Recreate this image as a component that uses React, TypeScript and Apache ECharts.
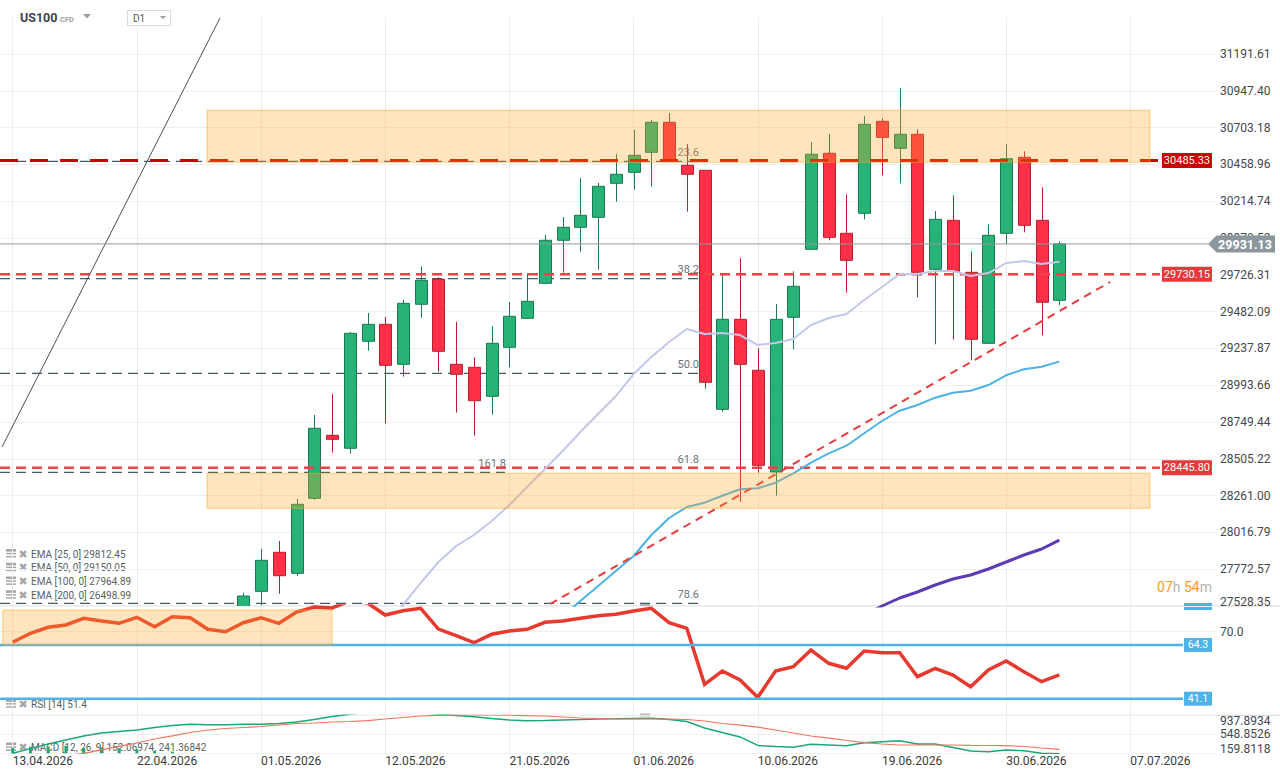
import React, { useEffect, useRef } from 'react';
import * as echarts from 'echarts';

// ---------- axes ----------
const dateLabels = [
  '13.04.2026', '22.04.2026', '01.05.2026', '12.05.2026', '21.05.2026',
  '01.06.2026', '10.06.2026', '19.06.2026', '30.06.2026', '07.07.2026',
];
const DAYS_PER_LABEL = 7;
const priceTicks = [
  27528.35, 27772.57, 28016.79, 28261.0, 28505.22, 28749.44, 28993.66, 29237.87,
  29482.09, 29726.31, 29970.52, 30214.74, 30458.96, 30703.18, 30947.4, 31191.61,
];
const rsiTicks = [70];
const macdTicks = [159.8118, 548.8526, 937.8934];

// ---------- daily candles (first visible bar is day 13) ----------
const candleStart = 13;
const opens = [
  27488.5, 27625.9, 27884.7, 27745.3, 28243.0, 28661.1, 28574.9, 29284.9, 29397.7, 29132.2,
  29530.4, 29696.3, 29132.2, 29112.4, 28919.9, 29245.1, 29437.5, 29669.8, 29955.1, 30041.4,
  30107.8, 30333.4, 30406.4, 30539.1, 30738.2, 30452.8, 30419.7, 28833.6, 29430.9, 29092.5,
  28417.6, 29444.2, 29895.5, 30532.5, 30001.6, 30134.3, 30744.8, 30565.6, 30658.6, 29762.7,
  30087.8, 29742.8, 29271.6, 30001.6, 30505.9, 30087.8, 29557.0,
];
const closes = [
  27594.7, 27831.6, 27729.4, 28203.2, 28707.6, 28634.6, 29338.0, 29397.7, 29125.6, 29537.1,
  29689.7, 29218.5, 29065.9, 28890.7, 29271.6, 29450.8, 29550.3, 29955.1, 30041.4, 30121.1,
  30313.5, 30393.1, 30519.1, 30738.2, 30479.4, 30393.1, 29012.8, 29430.9, 29132.2, 28462.0,
  29430.9, 29649.9, 30525.8, 29975.0, 29822.4, 30724.9, 30638.6, 30658.6, 29742.8, 30094.5,
  29749.4, 29298.2, 29988.3, 30496.6, 30054.7, 29543.7, 29931.13,
];
const lows = [
  27468.6, 27533.0, 27610.0, 27729.4, 28231.8, 28545.6, 28539.0, 29222.5, 28740.7, 29050.0,
  29441.5, 29083.2, 28811.1, 28658.5, 28797.8, 29112.4, 29432.9, 29665.1, 29740.2, 29879.5,
  29760.0, 30211.3, 30291.0, 30310.8, 30474.8, 30144.9, 28970.4, 28817.7, 28220.5, 28412.9,
  28260.3, 29231.8, 29890.8, 29955.1, 29607.4, 30094.5, 30386.4, 30333.4, 29576.9, 29265.0,
  29298.2, 29158.8, 29267.0, 29930.6, 30008.2, 29324.7, 29523.8,
];
const highs = [
  27616.6, 27906.6, 27959.7, 28238.4, 28795.8, 28935.2, 29346.6, 29472.7, 29446.1, 29559.0,
  29779.9, 29709.6, 29415.0, 29178.7, 29384.4, 29545.7, 29736.1, 29990.3, 30109.8, 30368.6,
  30335.4, 30527.9, 30687.1, 30753.5, 30799.9, 30594.2, 30421.6, 29736.1, 29835.7, 29238.4,
  29532.4, 29749.4, 30605.5, 30660.5, 30260.4, 30780.0, 30764.7, 30965.8, 30691.7, 30149.6,
  30253.7, 29882.1, 30061.3, 30592.2, 30545.7, 30306.8, 29948.4,
];

// ---------- moving averages ----------
const ema25Start = 21;
const ema25 = [
  27402.3, 27535.0, 27681.0, 27820.3, 27926.5, 27999.5, 28092.4, 28198.6, 28318.0, 28437.5,
  28556.9, 28683.0, 28802.5, 28921.9, 29067.9, 29180.7, 29280.2, 29366.5, 29333.3, 29340.0,
  29326.7, 29260.3, 29273.6, 29300.1, 29393.0, 29439.5, 29466.0, 29558.9, 29645.2, 29731.5,
  29731.5, 29751.4, 29751.4, 29718.2, 29738.1, 29804.5, 29817.7, 29797.8, 29812.45,
];
const ema50Start = 31;
const ema50 = [
  27462.0, 27561.5, 27661.1, 27760.6, 27860.2, 27999.5, 28112.3, 28185.3, 28213.9, 28260.3,
  28302.8, 28309.4, 28346.6, 28409.0, 28479.3, 28541.7, 28592.1, 28674.4, 28756.0, 28824.4,
  28862.2, 28910.7, 28943.8, 28957.1, 28994.9, 29059.3, 29099.1, 29116.4, 29150.05,
];
const ema100Start = 48;
const ema100 = [
  27468.6, 27528.35, 27581.4, 27621.3, 27667.7, 27707.5, 27734.1, 27773.9, 27820.3, 27866.8,
  27906.6, 27964.89,
];
const ema200Last = 26498.99;

// ---------- RSI [14] ----------
const rsi = [
  65.43, 69.31, 71.9, 72.89, 75.78, 74.62, 73.62, 76.21, 72.16, 76.47,
  76.04, 71.04, 70.0, 73.88, 76.04, 73.62, 78.5, 80.66, 80.22, 83.24,
  82.38, 77.2, 79.06, 80.09, 71.16, 68.27, 65.25, 68.88, 70.3, 71.04,
  74.06, 74.62, 75.78, 76.9, 77.51, 78.93, 80.09, 73.88, 71.47, 47.31,
  53.05, 49.16, 41.7, 53.05, 54.9, 62.11, 56.37, 54.21, 61.67, 60.94,
  60.94, 50.59, 54.21, 51.32, 46.27, 53.48, 57.36, 52.74, 48.43, 51.4,
];
const rsiBands = [64.3, 41.1];
const rsiZoneHigh = 79.36;
const rsiZoneLow = 64.3;

// ---------- MACD [12, 26, 9] ----------
const macdLine = [
  160.0, 254.2, 350.4, 432.3, 514.2, 575.6, 606.3, 637.0, 688.2, 729.1,
  755.7, 743.4, 745.0, 753.7, 755.7, 770.0, 800.8, 851.9, 913.3, 960.0,
  1000.0, 1020.0, 1010.0, 990.0, 960.0, 935.0, 909.2, 872.4, 841.7, 827.4,
  831.5, 841.7, 851.9, 862.2, 866.2, 872.4, 876.5, 851.9, 811.0, 677.9,
  585.8, 493.7, 319.7, 299.2, 282.9, 344.3, 329.9, 315.6, 377.0, 397.5,
  418.0, 350.4, 350.4, 278.8, 207.1, 192.8, 227.6, 213.3, 160.0, 152.06974,
];
const signalStart = 3;
const signalLine = [
  100.0, 160.0, 231.7, 303.3, 370.9, 452.8, 518.3, 585.8, 637.0, 667.7,
  688.2, 708.6, 739.3, 770.0, 780.3, 800.8, 811.0, 829.4, 862.2, 892.9,
  923.6, 935.0, 945.0, 950.0, 948.0, 940.0, 930.0, 923.6, 903.1, 882.6,
  872.4, 866.2, 862.2, 862.2, 858.1, 851.9, 821.2, 770.0, 735.2, 694.3,
  637.0, 575.6, 514.2, 469.1, 422.1, 377.0, 350.4, 329.9, 329.9, 329.9,
  329.9, 323.8, 319.7, 315.6, 299.2, 268.5, 241.36842,
];
const histogram = [268.5, 295.1, 295.1, 315.6, 268.5, 282.9, 262.4, 241.9, 207.1, 192.8];

// ---------- drawing tools ----------
const levelLines = [30485.33, 29730.15, 28445.8];
const fibLevels = [23.6, 38.2, 50.0, 61.8, 78.6];
const fibHigh = 31737.9;
const fibLow = 26405.0;
const extLevels = [161.8];
const extPrices = [28415.6];
const zoneHigh = [30817.8, 28408.9];
const zoneLow = [30472.7, 28176.7];
const blackTrend = [[-0.603, 28583.5], [11.685, 31430.3]];
const redTrend = [[30.29, 27541.6], [61.86, 29678.4]];

// ---------- layout constants ----------
const FONT = 'Roboto, "Noto Sans", sans-serif';
const X_MIN = -0.716;
const X_MAX = 67.83;
const PRICE_MAX = 31437.0;
const RSI_MIN = 33.93;
const RSI_MAX = 81.09;
const FIB_END = 38.63;
const EXT_END = 27.75;
const LEVEL_END = 64.67;
const LAST_END = 67.38;
const BAND_END = 65.97;
const ZONE_X = [10.95, 64.11];
const RSI_ZONE_X = [-0.56, 18.0];

const withIndex = (start: number, arr: number[]) => arr.map((v, k) => [start + k, v]);

const txt = (x: number, y: number, text: string, font: string, fill: string, align = 'left', extra: any = {}) => ({
  type: 'text',
  x,
  y,
  silent: true,
  style: { text, font, fill, align, verticalAlign: 'middle', textAlign: align, textVerticalAlign: 'middle', ...extra },
});

const renderCandle = (_p: any, api: any) => {
  const i = api.value(0);
  const o = api.value(1);
  const c = api.value(2);
  const l = api.value(3);
  const h = api.value(4);
  const po = api.coord([i, o]);
  const yc = api.coord([i, c])[1];
  const yl = api.coord([i, l])[1];
  const yh = api.coord([i, h])[1];
  const up = c >= o;
  const body = up ? '#27b277' : '#ff2f47';
  const edge = up ? '#1a7a50' : '#b71f30';
  const cx = Math.round(po[0]) + 0.5;
  const top = Math.min(po[1], yc);
  return {
    type: 'group',
    children: [
      { type: 'line', shape: { x1: cx, y1: yh, x2: cx, y2: yl }, style: { stroke: edge, lineWidth: 1 } },
      {
        type: 'rect',
        shape: { x: cx - 6, y: top, width: 12, height: Math.max(Math.abs(po[1] - yc), 1) },
        style: { fill: body, stroke: edge, lineWidth: 1 },
      },
    ],
  };
};

const renderZone = (_p: any, api: any) => {
  const a = api.coord([api.value(0), api.value(2)]);
  const b = api.coord([api.value(1), api.value(3)]);
  return {
    type: 'rect',
    shape: { x: a[0], y: a[1], width: b[0] - a[0], height: b[1] - a[1] },
    style: { fill: 'rgba(255,167,38,0.3)', stroke: 'rgba(255,167,38,0.55)', lineWidth: 1 },
  };
};

const levelStyles = [
  { color: '#cc0000', width: 3, dash: [18, 12] },
  { color: '#ee4247', width: 2.5, dash: [10, 6] },
  { color: '#ee4247', width: 2.5, dash: [10, 6] },
];
const tagColors = ['#cc0000', '#e8383d', '#e8383d'];

const renderLevel = (p: any, api: any) => {
  const v = api.value(1);
  const st = levelStyles[p.dataIndex];
  const a = api.coord([X_MIN, v]);
  const x1 = api.coord([LEVEL_END, v])[0];
  const y = a[1];
  return {
    type: 'group',
    children: [
      { type: 'line', shape: { x1: a[0], y1: y, x2: x1, y2: y }, style: { stroke: st.color, lineWidth: st.width, lineDash: st.dash } },
      { type: 'rect', shape: { x: x1 + 2, y: y - 7.5, width: 50, height: 15 }, style: { fill: tagColors[p.dataIndex] } },
      txt(x1 + 27, y, v.toFixed(2), `11px ${FONT}`, '#ffffff', 'center'),
    ],
  };
};

const renderFib = (_p: any, api: any) => {
  const lvl = api.value(0);
  const price = api.value(1);
  const xEnd = api.value(2);
  const a = api.coord([X_MIN, price]);
  const b = api.coord([xEnd, price]);
  return {
    type: 'group',
    children: [
      { type: 'line', shape: { x1: a[0], y1: a[1], x2: b[0], y2: b[1] }, style: { stroke: '#455a64', lineWidth: 1.3, lineDash: [10, 6] } },
      txt(b[0] + 1, a[1] - 9, lvl.toFixed(1), `11px ${FONT}`, '#6b747a', 'right'),
    ],
  };
};

const renderLast = (_p: any, api: any) => {
  const v = api.value(1);
  const a = api.coord([X_MIN, v]);
  const tip = api.coord([LAST_END, v])[0];
  const y = a[1];
  return {
    type: 'group',
    children: [
      { type: 'line', shape: { x1: a[0], y1: y, x2: tip, y2: y }, style: { stroke: '#8f9aa0', lineWidth: 1 } },
      {
        type: 'polygon',
        shape: { points: [[tip, y], [tip + 8.5, y - 8.5], [tip + 67, y - 8.5], [tip + 67, y + 8.5], [tip + 8.5, y + 8.5]] },
        style: { fill: '#8c979d' },
      },
      txt(tip + 37, y + 0.5, v.toFixed(2), `bold 12.5px ${FONT}`, '#ffffff', 'center'),
    ],
  };
};

const renderBand = (_p: any, api: any) => {
  const v = api.value(1);
  const a = api.coord([X_MIN, v]);
  const x1 = api.coord([BAND_END, v])[0];
  const y = a[1];
  return {
    type: 'group',
    children: [
      { type: 'line', shape: { x1: a[0], y1: y, x2: x1, y2: y }, style: { stroke: '#4db3e8', lineWidth: 2.5 } },
      { type: 'rect', shape: { x: x1 + 1, y: y - 7, width: 28, height: 14 }, style: { fill: '#4db3e8' } },
      txt(x1 + 15, y, v.toFixed(1), `10.5px ${FONT}`, '#ffffff', 'center'),
    ],
  };
};

const dateTicks = dateLabels.map((_, k) => k * DAYS_PER_LABEL);

const makeX = (gridIndex: number, showLabels: boolean) => ({
  type: 'value',
  gridIndex,
  min: X_MIN,
  max: X_MAX,
  axisLine: { show: false },
  axisTick: { show: false, customValues: dateTicks },
  axisLabel: {
    show: showLabels,
    customValues: dateTicks,
    formatter: (v: number) => dateLabels[Math.round(v / DAYS_PER_LABEL)] ?? '',
    align: 'left',
    margin: 2,
    color: '#3a3a3a',
    fontSize: 12,
    fontFamily: FONT,
  },
  splitLine: { show: true, lineStyle: { color: '#ededed', width: 1 } },
});

const yLabelBase = { color: '#3f4850', fontSize: 12, fontFamily: FONT, margin: 4 };

const legendIcon = (y: number) => [
  { type: 'rect', silent: true, shape: { x: 6, y: y - 5, width: 10, height: 2.6 }, style: { fill: '#a6a6a6' } },
  { type: 'rect', silent: true, shape: { x: 6, y: y - 1.2, width: 10, height: 1.5 }, style: { fill: '#a6a6a6' } },
  { type: 'rect', silent: true, shape: { x: 6, y: y + 1.9, width: 10, height: 1.5 }, style: { fill: '#a6a6a6' } },
  txt(18.5, y, '✖', 'bold 11px "DejaVu Sans", sans-serif', '#a6a6a6'),
];

function buildOption(): any {
  const candleData = opens.map((o, k) => [candleStart + k, o, closes[k], lows[k], highs[k]]);
  const lastClose = closes[closes.length - 1];
  const fibData = [
    ...fibLevels.map((l) => [l, fibHigh - ((fibHigh - fibLow) * l) / 100, FIB_END]),
    ...extLevels.map((l, k) => [l, extPrices[k], EXT_END]),
  ];
  const zoneData = zoneHigh.map((h, k) => [ZONE_X[0], ZONE_X[1], h, zoneLow[k]]);

  const emaRows = [
    `EMA [25, 0] ${ema25[ema25.length - 1].toFixed(2)}`,
    `EMA [50, 0] ${ema50[ema50.length - 1].toFixed(2)}`,
    `EMA [100, 0] ${ema100[ema100.length - 1].toFixed(2)}`,
    `EMA [200, 0] ${ema200Last.toFixed(2)}`,
  ];
  const emaRowY = [554, 567.8, 581.5, 595.3];
  const legendFont = `10px ${FONT}`;
  const legendColor = '#585f65';

  const graphic: any[] = [
    // header
    txt(20, 17.5, 'US100', `bold 12.5px ${FONT}`, '#3d4449'),
    txt(60, 19, 'CFD', `bold 7.5px ${FONT}`, '#a2a2a2'),
    { type: 'polygon', silent: true, shape: { points: [[83, 14], [91, 14], [87, 18.5]] }, style: { fill: '#9e9e9e' } },
    { type: 'rect', silent: true, shape: { x: 127.5, y: 10.5, width: 43, height: 15 }, style: { fill: '#ffffff', stroke: '#d9d9d9', lineWidth: 1 } },
    txt(133, 18.3, 'D1', `10px ${FONT}`, '#555b60'),
    { type: 'polygon', silent: true, shape: { points: [[160, 16], [166, 16], [163, 19]] }, style: { fill: '#9e9e9e' } },
    // pane separators and handles
    { type: 'line', silent: true, shape: { x1: 0, y1: 606, x2: 1280, y2: 606 }, style: { stroke: '#d4d4d4', lineWidth: 1 } },
    { type: 'line', silent: true, shape: { x1: 0, y1: 715.3, x2: 1280, y2: 715.3 }, style: { stroke: '#d4d4d4', lineWidth: 1 } },
    { type: 'rect', silent: true, shape: { x: 640, y: 604, width: 10, height: 3 }, style: { fill: '#b5b5b5' } },
    { type: 'rect', silent: true, shape: { x: 640, y: 713.5, width: 10, height: 3 }, style: { fill: '#b5b5b5' } },
    { type: 'rect', silent: true, shape: { x: 1184, y: 603, width: 28, height: 7 }, style: { fill: '#4db3e8' } },
    // candle countdown
    {
      type: 'text',
      x: 1212,
      y: 587,
      silent: true,
      style: {
        text: '{o|07}{g|h} {o|54}{g|m}',
        align: 'right',
        textAlign: 'right',
        verticalAlign: 'middle',
        textVerticalAlign: 'middle',
        font: `14px ${FONT}`,
        rich: {
          o: { fill: '#ff9a1e', font: `14px ${FONT}` },
          g: { fill: '#b3b3b3', font: `14px ${FONT}` },
        },
      },
    },
  ];
  emaRows.forEach((t, k) => {
    graphic.push(...legendIcon(emaRowY[k]));
    graphic.push(txt(31, emaRowY[k], t, legendFont, legendColor));
  });
  graphic.push(...legendIcon(704.3));
  graphic.push(txt(31, 704.3, `RSI [14] ${rsi[rsi.length - 1].toFixed(1)}`, legendFont, legendColor));
  graphic.push(...legendIcon(747.5));
  graphic.push(
    txt(
      31,
      747.5,
      `MACD [12, 26, 9] ${macdLine[macdLine.length - 1].toFixed(5)}, ${signalLine[signalLine.length - 1].toFixed(5)}`,
      legendFont,
      legendColor,
    ),
  );

  return {
    animation: false,
    backgroundColor: '#ffffff',
    textStyle: { fontFamily: FONT },
    grid: [
      { left: 0, right: 64, top: 17, height: 589 },
      { left: 0, right: 64, top: 606, height: 109.3 },
      { left: 0, right: 64, top: 715.3, height: 38 },
    ],
    xAxis: [makeX(0, false), makeX(1, false), makeX(2, true)],
    yAxis: [
      {
        type: 'value',
        gridIndex: 0,
        position: 'right',
        min: priceTicks[0],
        max: PRICE_MAX,
        axisLine: { show: false },
        axisTick: { show: false, customValues: priceTicks },
        axisLabel: {
          ...yLabelBase,
          customValues: priceTicks,
          formatter: (v: number) => {
            const s = v.toFixed(2);
            return Math.abs(v - priceTicks[0]) < 1e-6 ? `{lo|${s}}` : s;
          },
          rich: { lo: { padding: [0, 0, 8, 0], color: '#3f4850', fontSize: 12, fontFamily: FONT } },
        },
        splitLine: { show: true, lineStyle: { color: '#efefef' } },
      },
      {
        type: 'value',
        gridIndex: 1,
        position: 'right',
        min: RSI_MIN,
        max: RSI_MAX,
        axisLine: { show: false },
        axisTick: { show: false, customValues: rsiTicks },
        axisLabel: { ...yLabelBase, customValues: rsiTicks, formatter: (v: number) => v.toFixed(1) },
        splitLine: { show: true, lineStyle: { color: '#efefef' } },
      },
      {
        type: 'value',
        gridIndex: 2,
        position: 'right',
        min: macdTicks[0],
        max: macdTicks[macdTicks.length - 1],
        axisLine: { show: false },
        axisTick: { show: false, customValues: macdTicks },
        axisLabel: {
          ...yLabelBase,
          customValues: macdTicks,
          formatter: (v: number) => {
            const s = v.toFixed(4);
            if (Math.abs(v - macdTicks[macdTicks.length - 1]) < 1e-6) return `{hi|${s}}`;
            if (Math.abs(v - macdTicks[0]) < 1e-6) return `{lo|${s}}`;
            return s;
          },
          rich: {
            hi: { padding: [12, 0, 0, 0], color: '#3f4850', fontSize: 12, fontFamily: FONT },
            lo: { padding: [0, 0, 9, 0], color: '#3f4850', fontSize: 12, fontFamily: FONT },
          },
        },
        splitLine: { show: true, lineStyle: { color: '#efefef' } },
      },
    ],
    graphic,
    series: [
      // ----- price pane -----
      {
        type: 'custom',
        name: 'US100',
        xAxisIndex: 0,
        yAxisIndex: 0,
        clip: true,
        z: 3,
        silent: true,
        renderItem: renderCandle,
        encode: { x: 0, y: [1, 2, 3, 4] },
        data: candleData,
      },
      {
        type: 'custom',
        name: 'Fibonacci',
        xAxisIndex: 0,
        yAxisIndex: 0,
        clip: false,
        z: 2,
        silent: true,
        renderItem: renderFib,
        data: fibData,
      },
      {
        type: 'line',
        name: 'EMA 25',
        xAxisIndex: 0,
        yAxisIndex: 0,
        showSymbol: false,
        silent: true,
        z: 4,
        lineStyle: { color: '#c3c7ea', width: 2 },
        data: withIndex(ema25Start, ema25),
      },
      {
        type: 'line',
        name: 'EMA 50',
        xAxisIndex: 0,
        yAxisIndex: 0,
        showSymbol: false,
        silent: true,
        z: 4,
        lineStyle: { color: '#4bb3e7', width: 2 },
        data: withIndex(ema50Start, ema50),
      },
      {
        type: 'line',
        name: 'EMA 100',
        xAxisIndex: 0,
        yAxisIndex: 0,
        showSymbol: false,
        silent: true,
        z: 4,
        lineStyle: { color: '#5c3bb3', width: 3 },
        data: withIndex(ema100Start, ema100),
      },
      {
        type: 'line',
        name: 'trend',
        xAxisIndex: 0,
        yAxisIndex: 0,
        showSymbol: false,
        silent: true,
        z: 4,
        lineStyle: { color: '#4a4f54', width: 1 },
        data: blackTrend,
      },
      {
        type: 'line',
        name: 'support trend',
        xAxisIndex: 0,
        yAxisIndex: 0,
        showSymbol: false,
        silent: true,
        z: 4,
        lineStyle: { color: '#ea3a3d', width: 2, type: [8, 6] },
        data: redTrend,
      },
      {
        type: 'custom',
        name: 'levels',
        xAxisIndex: 0,
        yAxisIndex: 0,
        clip: false,
        z: 4,
        silent: true,
        renderItem: renderLevel,
        data: levelLines.map((v) => [X_MIN, v]),
      },
      {
        type: 'custom',
        name: 'last price',
        xAxisIndex: 0,
        yAxisIndex: 0,
        clip: false,
        z: 8,
        silent: true,
        renderItem: renderLast,
        data: [[X_MIN, lastClose]],
      },
      {
        type: 'custom',
        name: 'zones',
        xAxisIndex: 0,
        yAxisIndex: 0,
        clip: true,
        z: 6,
        silent: true,
        renderItem: renderZone,
        data: zoneData,
      },
      // ----- RSI pane -----
      {
        type: 'line',
        name: 'RSI',
        xAxisIndex: 1,
        yAxisIndex: 1,
        showSymbol: false,
        silent: true,
        z: 3,
        lineStyle: { color: '#e8392f', width: 3.5, join: 'miter' },
        data: withIndex(0, rsi),
      },
      {
        type: 'custom',
        name: 'RSI bands',
        xAxisIndex: 1,
        yAxisIndex: 1,
        clip: false,
        z: 4,
        silent: true,
        renderItem: renderBand,
        data: rsiBands.map((v) => [X_MIN, v]),
      },
      {
        type: 'custom',
        name: 'RSI zone',
        xAxisIndex: 1,
        yAxisIndex: 1,
        clip: true,
        z: 6,
        silent: true,
        renderItem: renderZone,
        data: [[RSI_ZONE_X[0], RSI_ZONE_X[1], rsiZoneHigh, rsiZoneLow]],
      },
      // ----- MACD pane -----
      {
        type: 'bar',
        name: 'MACD histogram',
        xAxisIndex: 2,
        yAxisIndex: 2,
        barWidth: 3,
        clip: true,
        silent: true,
        itemStyle: { color: '#1fa872' },
        data: withIndex(0, histogram),
      },
      {
        type: 'line',
        name: 'MACD',
        xAxisIndex: 2,
        yAxisIndex: 2,
        showSymbol: false,
        silent: true,
        z: 3,
        lineStyle: { color: '#1aa874', width: 1.4 },
        data: withIndex(0, macdLine),
      },
      {
        type: 'line',
        name: 'Signal',
        xAxisIndex: 2,
        yAxisIndex: 2,
        showSymbol: false,
        silent: true,
        z: 3,
        lineStyle: { color: '#f2735f', width: 1.2 },
        data: withIndex(signalStart, signalLine),
      },
    ],
  };
}

export default function App() {
  const ref = useRef<HTMLDivElement>(null);
  useEffect(() => {
    if (!ref.current) return undefined;
    const chart = echarts.init(ref.current, undefined, { renderer: 'svg' });
    chart.setOption(buildOption());
    return () => chart.dispose();
  }, []);
  return (
    <div
      ref={ref}
      style={{ position: 'fixed', left: 0, top: 0, width: 1280, height: 779, background: '#ffffff' }}
    />
  );
}
